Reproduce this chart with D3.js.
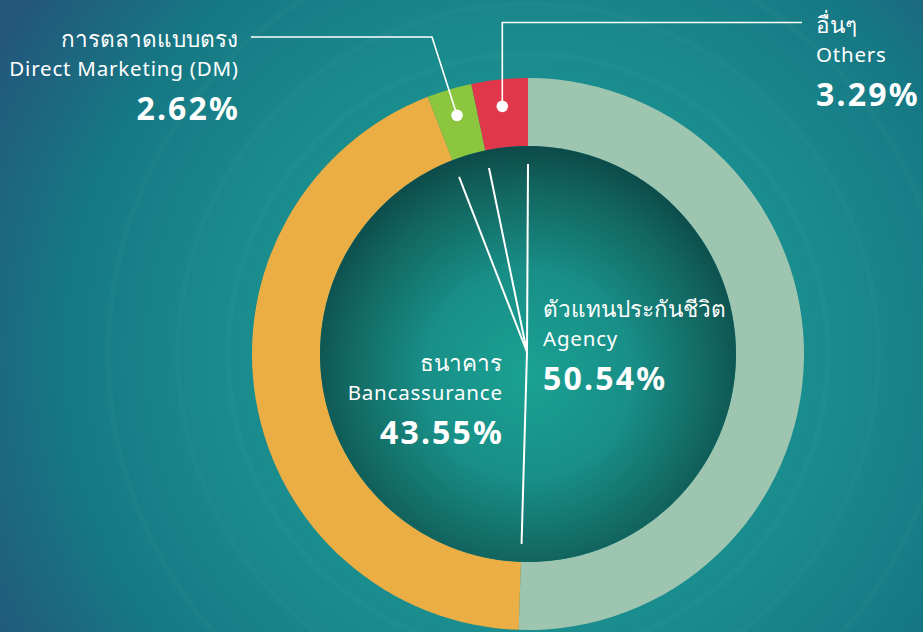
<!DOCTYPE html>
<html>
<head>
<meta charset="utf-8">
<script src="https://cdn.jsdelivr.net/npm/d3@7"></script>
<style>
  html, body { margin: 0; padding: 0; background: #1d6f84; }
  svg { display: block; font-family: "Noto Sans", "DejaVu Sans", sans-serif; }
</style>
</head>
<body>
<div id="viz"></div>
<script>
// channel mix (percent of premium)
const labelsTh = ['ตัวแทนประกันชีวิต', 'ธนาคาร', 'การตลาดแบบตรง', 'อื่นๆ']
const labelsEn = ['Agency', 'Bancassurance', 'Direct Marketing (DM)', 'Others']
const shares = [50.54, 43.55, 2.62, 3.29]
const sliceColors = ['#9ec5b0', '#ebae44', '#8cc63f', '#e1374a']

const width = 923
const height = 632
const cx = 528
const cy = 354
const outerR = 276
const innerR = 208

let svg = d3.select('#viz')
  .append('svg')
  .attr('width', width)
  .attr('height', height)

let defs = svg.append('defs')

let bg = defs.append('radialGradient')
  .attr('id', 'bgGrad')
  .attr('gradientUnits', 'userSpaceOnUse')
  .attr('cx', cx).attr('cy', cy).attr('r', 620)
bg.append('stop').attr('offset', '0%').attr('stop-color', '#1c9b93')
bg.append('stop').attr('offset', '50%').attr('stop-color', '#1a8b8d')
bg.append('stop').attr('offset', '75%').attr('stop-color', '#167884')
bg.append('stop').attr('offset', '100%').attr('stop-color', '#24557a')

let core = defs.append('radialGradient')
  .attr('id', 'coreGrad')
  .attr('cx', '50%').attr('cy', '55%').attr('r', '55%')
core.append('stop').attr('offset', '0%').attr('stop-color', '#1ba192')
core.append('stop').attr('offset', '45%').attr('stop-color', '#188f88')
core.append('stop').attr('offset', '80%').attr('stop-color', '#126760')
core.append('stop').attr('offset', '100%').attr('stop-color', '#0d4a4a')

svg.append('rect')
  .attr('width', width)
  .attr('height', height)
  .attr('fill', 'url(#bgGrad)')

// faint rings in the backdrop
let rings = [300, 350, 420]
rings.forEach((r) => {
  svg.append('circle')
    .attr('cx', cx).attr('cy', cy).attr('r', r)
    .attr('fill', 'none')
    .attr('stroke', '#ffffff')
    .attr('stroke-opacity', 0.022)
    .attr('stroke-width', 6)
})

let g = svg.append('g').attr('transform', `translate(${cx},${cy})`)

let pie = d3.pie().sort(null).value(d => d)
let arcs = pie(shares)

let arc = d3.arc().innerRadius(innerR).outerRadius(outerR)

g.selectAll('path.slice')
  .data(arcs)
  .enter()
  .append('path')
  .attr('class', 'slice')
  .attr('d', arc)
  .attr('fill', (d, i) => sliceColors[i])

g.append('circle')
  .attr('r', innerR)
  .attr('fill', 'url(#coreGrad)')

// white spokes at the slice boundaries
let spokeR = 190
arcs.forEach((d) => {
  let p = d3.pointRadial(d.endAngle, spokeR)
  g.append('line')
    .attr('x1', -1).attr('y1', -2)
    .attr('x2', p[0]).attr('y2', p[1])
    .attr('stroke', '#ffffff')
    .attr('stroke-width', 2)
})

// leader lines for the two small slices
let dotR = 249
let leaders = [
  { idx: 2, bend: [432, 37], end: [251, 37] },
  { idx: 3, bend: null, end: [802, 22.5] }
]
leaders.forEach((l) => {
  let a = arcs[l.idx]
  let mid = (a.startAngle + a.endAngle) / 2
  let p = d3.pointRadial(mid, dotR)
  let px = cx + p[0]
  let py = cy + p[1]
  let pts
  if (l.bend) {
    pts = [[px, py], l.bend, l.end]
  } else {
    pts = [[px, py], [px, l.end[1]], l.end]
  }
  svg.append('path')
    .attr('d', d3.line()(pts))
    .attr('fill', 'none')
    .attr('stroke', '#ffffff')
    .attr('stroke-width', 1.6)
  svg.append('circle')
    .attr('cx', px).attr('cy', py).attr('r', 5.8)
    .attr('fill', '#ffffff')
})

// labels
let labelPos = [
  { x: 543, y: 317, anchor: 'start' },
  { x: 502, y: 371, anchor: 'end' },
  { x: 238, y: 47, anchor: 'end' },
  { x: 816, y: 33, anchor: 'start' }
]

labelPos.forEach((p, i) => {
  let t = svg.append('g').attr('fill', '#ffffff').attr('text-anchor', p.anchor)
  let shift = p.anchor === 'end' ? 1 : 0
  t.append('text')
    .attr('x', p.x).attr('y', p.y)
    .attr('font-size', 22.5)
    .text(labelsTh[i])
  t.append('text')
    .attr('x', p.x + shift * 0.8).attr('y', p.y + 28.5)
    .attr('font-size', 20.5)
    .attr('letter-spacing', 0.8)
    .text(labelsEn[i])
  t.append('text')
    .attr('x', p.x + shift * 2.2).attr('y', p.y + 73)
    .attr('font-size', 32)
    .attr('font-weight', 'bold')
    .attr('letter-spacing', 2.2)
    .text(d3.format('.2f')(shares[i]) + '%')
})
</script>
</body>
</html>
